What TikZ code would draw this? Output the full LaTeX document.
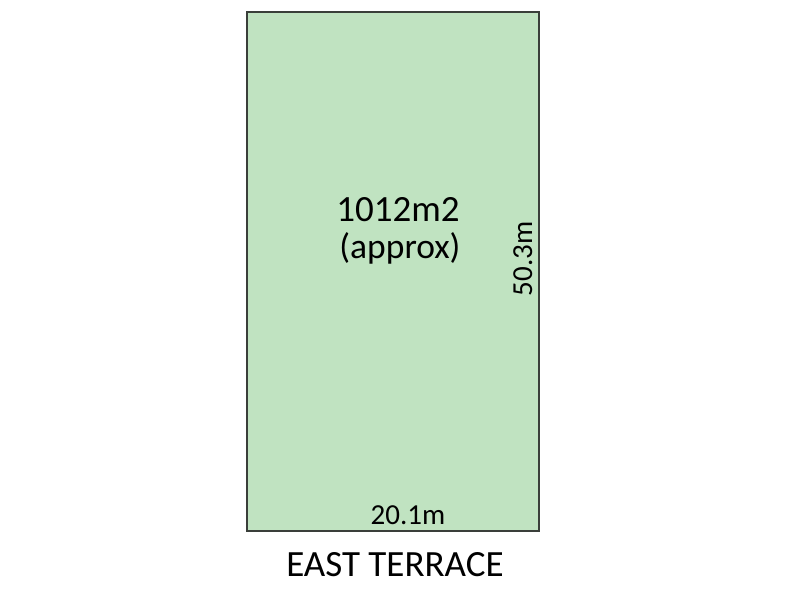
\documentclass[tikz,border=0pt]{standalone}
\usepackage{fontspec}
\setmainfont{Carlito}
\usepackage{xcolor}
\usetikzlibrary{positioning}
\definecolor{lotgreen}{HTML}{C0E3C1}
\definecolor{lotedge}{HTML}{3A3F3A}
\tikzstyle{lot} = [draw=lotedge, fill=lotgreen, line width=2pt]
\tikzstyle{dim} = [inner sep=0pt, font=\fontsize{29}{32}\selectfont]
\tikzstyle{area} = [inner sep=0pt, font=\fontsize{37}{42}\selectfont]

\begin{document}
\begin{tikzpicture}[x=1pt, y=-1pt]
  \useasboundingbox (0,0) rectangle (800,600);
  \path [lot] (247,12) rectangle (539,531);
  \node [area, anchor=base] (areaval) at (398,221) {1012m2};
  \node [area, anchor=base, font=\fontsize{35.5}{40}\selectfont] (approx) at (400,258) {(approx)};
  \node [dim, anchor=base, rotate=90] (side) at (532,259) {50.3m};
  \node [dim, anchor=base] (front) at (408,524) {20.1m};
  \node [area, anchor=base] (street) at (395,576) {EAST TERRACE};
\end{tikzpicture}
\end{document}
